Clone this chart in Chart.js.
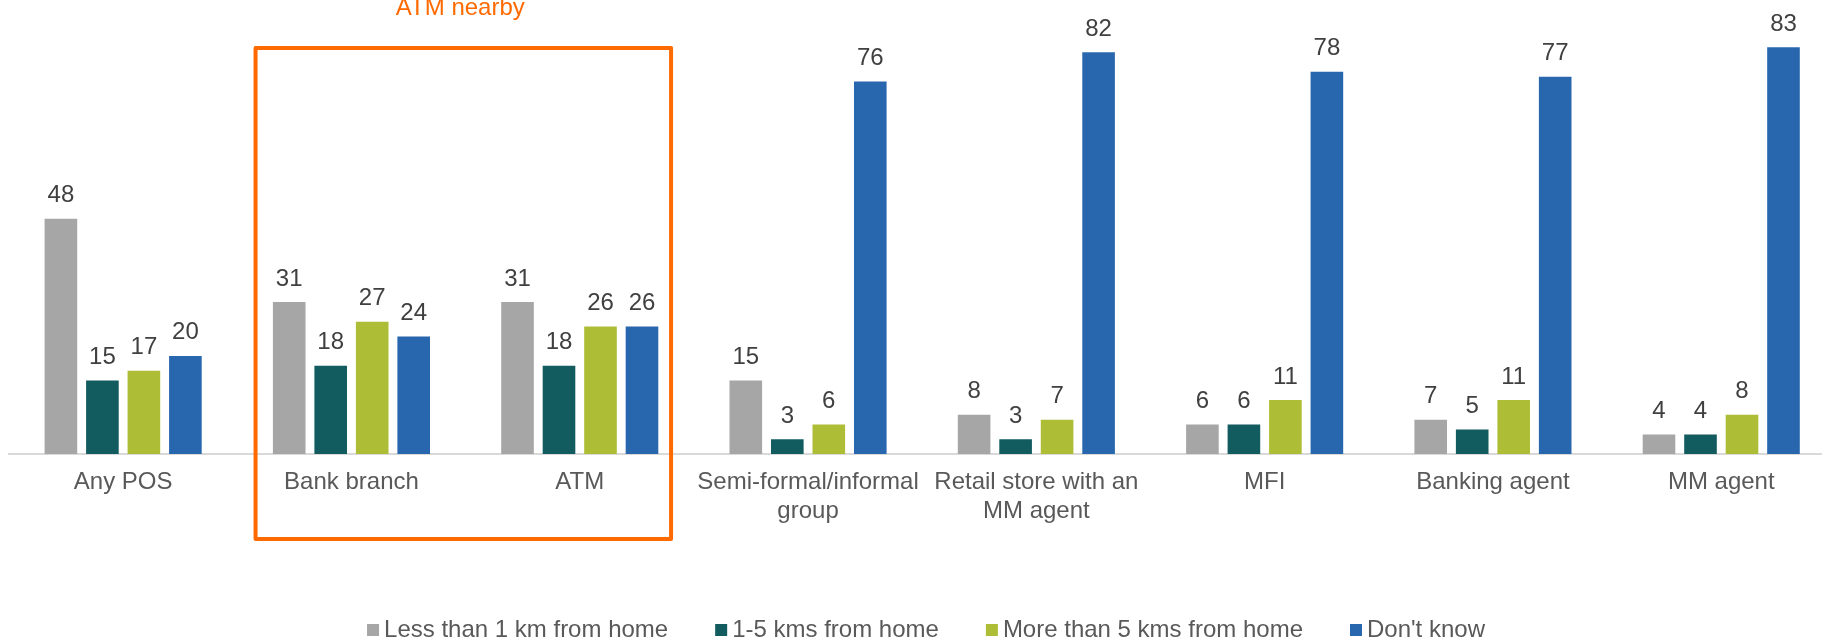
<!DOCTYPE html>
<html>
<head>
<meta charset="utf-8">
<script src="https://cdn.jsdelivr.net/npm/chart.js@4.4.1/dist/chart.umd.min.js"></script>
<style>
  html, body { margin: 0; padding: 0; background: #ffffff; overflow: hidden; }
  #wrap { position: absolute; left: 0; top: 0; width: 1840px; height: 638px; }
</style>
</head>
<body>
<div id="wrap"><canvas id="chart" width="1840" height="638"></canvas></div>
<script>
// Access points and distance from home (%)
const categories = [
  'Any POS',
  'Bank branch',
  'ATM',
  ['Semi-formal/informal', 'group'],
  ['Retail store with an', 'MM agent'],
  'MFI',
  'Banking agent',
  'MM agent'
];

const seriesNames = [
  'Less than 1 km from home',
  '1-5 kms from home',
  'More than 5 kms from home',
  "Don't know"
];

const lessThan1km = [48, 31, 31, 15, 8, 6, 7, 4];
const oneToFiveKm = [15, 18, 18, 3, 3, 6, 5, 4];
const moreThan5km = [17, 27, 26, 6, 7, 11, 11, 8];
const dontKnow    = [20, 24, 26, 76, 82, 78, 77, 83];

const seriesColors = ['#A6A6A6', '#125B5F', '#ADBD36', '#2867AE'];

const highlightTitle = 'ATM nearby';
const highlightColor = '#FF6A00';

const FONT = '"Liberation Sans", Arial, sans-serif';

// Numbers above each bar
const valueLabels = {
  id: 'valueLabels',
  afterDatasetsDraw(chart) {
    const ctx = chart.ctx;
    ctx.save();
    ctx.font = '24px ' + FONT;
    ctx.fillStyle = '#404040';
    ctx.textAlign = 'center';
    ctx.textBaseline = 'alphabetic';
    chart.data.datasets.forEach((ds, i) => {
      chart.getDatasetMeta(i).data.forEach((bar, j) => {
        ctx.fillText(String(ds.data[j]), bar.x, bar.y - 16.5);
      });
    });
    ctx.restore();
  }
};

// Orange frame around the bank branch / ATM groups, with its caption
const highlightBox = {
  id: 'highlightBox',
  afterDraw(chart) {
    const x = chart.scales.x;
    const step = x.getPixelForValue(1) - x.getPixelForValue(0);
    const left = x.getPixelForValue(1) - 0.42 * step;
    const right = x.getPixelForValue(2) + 0.40 * step;
    const top = 48, bottom = 539;
    const ctx = chart.ctx;
    ctx.save();
    ctx.strokeStyle = highlightColor;
    ctx.lineWidth = 4;
    ctx.lineJoin = 'round';
    ctx.strokeRect(left, top, right - left, bottom - top);
    ctx.font = '24px ' + FONT;
    ctx.fillStyle = highlightColor;
    ctx.textAlign = 'center';
    ctx.textBaseline = 'alphabetic';
    ctx.fillText(highlightTitle, (left + right) / 2 - 3, 15);
    ctx.restore();
  }
};

// Legend row along the bottom edge
const bottomLegend = {
  id: 'bottomLegend',
  afterDraw(chart) {
    const ctx = chart.ctx;
    ctx.save();
    ctx.font = '24px ' + FONT;
    const box = 12, gapText = 5, gapItem = 47;
    const items = chart.data.datasets.map(ds => ({
      text: ds.label, color: ds.backgroundColor, w: ctx.measureText(ds.label).width
    }));
    const total = items.reduce((s, it) => s + box + gapText + it.w, 0) + gapItem * (items.length - 1);
    let cx = 926 - total / 2;
    const baseline = 637;
    items.forEach(it => {
      ctx.fillStyle = it.color;
      ctx.fillRect(cx, baseline - 13, box, box);
      ctx.fillStyle = '#595959';
      ctx.textAlign = 'left';
      ctx.textBaseline = 'alphabetic';
      ctx.fillText(it.text, cx + box + gapText, baseline);
      cx += box + gapText + it.w + gapItem;
    });
    ctx.restore();
  }
};

const values = [lessThan1km, oneToFiveKm, moreThan5km, dontKnow];

new Chart(document.getElementById('chart'), {
  type: 'bar',
  data: {
    labels: categories,
    datasets: values.map((d, i) => ({
      label: seriesNames[i],
      data: d,
      backgroundColor: seriesColors[i],
      borderWidth: 0,
      barPercentage: 0.786,
      categoryPercentage: 0.727
    }))
  },
  options: {
    responsive: false,
    animation: false,
    devicePixelRatio: 1,
    layout: { padding: { left: 9, right: 4.6, top: 0, bottom: 0 } },
    plugins: {
      legend: { display: false },
      tooltip: { enabled: false },
      title: { display: false }
    },
    scales: {
      x: {
        grid: { display: false, drawTicks: false },
        border: { display: true, color: '#D9D9D9', width: 2 },
        ticks: {
          color: '#595959',
          font: { family: FONT, size: 24 },
          padding: 14,
          maxRotation: 0,
          autoSkip: false
        },
        afterFit(scale) { scale.height = 184; }
      },
      y: {
        display: false,
        min: 0,
        max: 92.65
      }
    }
  },
  plugins: [valueLabels, highlightBox, bottomLegend]
});
</script>
</body>
</html>
